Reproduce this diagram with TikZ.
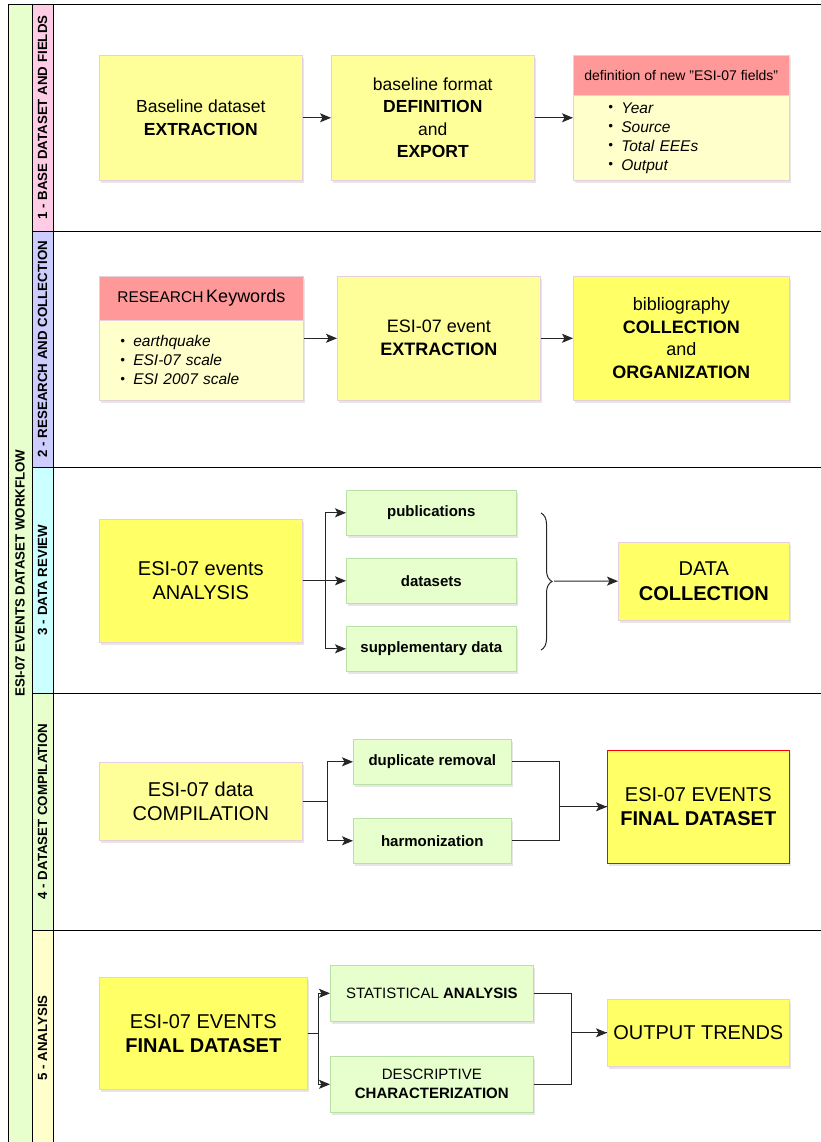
\documentclass[tikz,border=0pt]{standalone}
\usepackage{fontspec}
\setmainfont{Liberation Sans}
\usepackage{xcolor}
\usetikzlibrary{positioning,shadows,decorations.pathreplacing,arrows.meta}

\definecolor{paleyel}{HTML}{FFFF99}
\definecolor{brightyel}{HTML}{FFFF66}
\definecolor{boxline}{HTML}{E6D0DE}
\definecolor{headred}{HTML}{FF9999}
\definecolor{listyel}{HTML}{FFFFCC}
\definecolor{taskfill}{HTML}{E6FFCC}
\definecolor{taskline}{HTML}{B9E0A5}
\definecolor{outgreen}{HTML}{E6FFCC}
\definecolor{lanepink}{HTML}{FFCCE6}
\definecolor{lanelil}{HTML}{CCCCFF}
\definecolor{lanecyan}{HTML}{CCFFFF}
\definecolor{lanegreen}{HTML}{E6FFCC}
\definecolor{laneyel}{HTML}{FFFFCC}

\newcommand{\itm}{\makebox[13pt][l]{\raisebox{0.2ex}{\scalebox{0.85}{\textbullet}}}}

\begin{document}
\begin{tikzpicture}[x=1pt,y=-1pt]
\tikzstyle{box}=[draw=boxline,line width=0.6pt,inner sep=0pt,anchor=north west,align=center,drop shadow={shadow xshift=2pt,shadow yshift=-3pt,opacity=0.2}]
\tikzstyle{pale}=[box,fill=paleyel]
\tikzstyle{bright}=[box,fill=brightyel]
\tikzstyle{task}=[box,fill=taskfill,draw=taskline,font=\bfseries\fontsize{15}{18}\selectfont]
\tikzstyle{head}=[box,fill=headred]
\tikzstyle{list}=[box,fill=listyel,align=left,font=\itshape\fontsize{15.5}{19}\selectfont]
\tikzstyle{arr}=[-{Stealth[length=11pt,width=9pt,inset=2.5pt]},line width=1pt,black!85]
\tikzstyle{con}=[line width=1pt,black!85]
\tikzstyle{lanelbl}=[rotate=90,font=\bfseries\fontsize{13.3}{15}\selectfont]

\useasboundingbox (0,0) rectangle (821,1142);

% frame and lanes
\draw[fill=outgreen,line width=0.8pt] (8,4) rectangle (32,1146);
\node[lanelbl] (wflow) at (20,573) {ESI-07 EVENTS DATASET WORKFLOW};

\foreach \n/\ya/\yb/\col/\txt in {1/4/231/lanepink/{1 - BASE DATASET AND FIELDS},
  2/231/467/lanelil/{2 - RESEARCH AND COLLECTION},
  3/467/693/lanecyan/{3 - DATA REVIEW},
  4/693/930/lanegreen/{4 - DATASET COMPILATION},
  5/930/1146/laneyel/{5 - ANALYSIS}}{
  \draw[line width=0.8pt] (32,\ya) rectangle (825,\yb);
  \draw[fill=\col,line width=0.8pt] (32,\ya) rectangle (53,\yb);
  \node[lanelbl] (lane\n) at (42.5,{(\ya+\yb)/2}) {\txt};
}

% 1 - base dataset and fields
\node[pale,minimum width=203pt,minimum height=125pt,font=\fontsize{17.5}{23}\selectfont] (bext) at (99,55) {Baseline dataset\\\textbf{EXTRACTION}};
\node[pale,minimum width=203pt,minimum height=125pt,font=\fontsize{17.5}{22.5}\selectfont] (bfmt) at (331,55) {baseline format\\\textbf{DEFINITION}\\and\\\textbf{EXPORT}};
\node[head,minimum width=216pt,minimum height=40pt,font=\fontsize{14}{16}\selectfont] (fhead) at (573,55) {definition of new "ESI-07 fields"};
\node[list,minimum width=216pt,minimum height=85pt,text width=146pt] (fbody) at (573,95) {\itm Year\\\itm Source\\\itm Total EEEs\\\itm Output};

\draw[arr] (bext) -- (bfmt);
\draw[arr] (bfmt.east) -- (bfmt.east -| fbody.west);

% 2 - research and collection
\node[head,minimum width=204pt,minimum height=44pt] (khead) at (99,276) {{\fontsize{15.5}{18}\selectfont RESEARCH} {\fontsize{18}{20}\selectfont Keywords}};
\node[list,minimum width=204pt,minimum height=80pt,text width=162pt] (kbody) at (99,320) {\itm earthquake\\\itm ESI-07 scale\\\itm ESI 2007 scale};
\node[pale,minimum width=203pt,minimum height=124pt,font=\fontsize{18}{23}\selectfont] (eext) at (337,276) {ESI-07 event\\\textbf{EXTRACTION}};
\node[bright,minimum width=216pt,minimum height=124pt,font=\fontsize{18}{22.5}\selectfont] (bibl) at (573,276) {bibliography\\\textbf{COLLECTION}\\and\\\textbf{ORGANIZATION}};

\draw[arr] (eext.west -| kbody.east) -- (eext.west);
\draw[arr] (eext) -- (bibl);

% 3 - data review
\node[bright,minimum width=203pt,minimum height=123pt,font=\fontsize{20}{24}\selectfont] (anal) at (99,519) {ESI-07 events\\ANALYSIS};
\node[task,minimum width=170pt,minimum height=45pt] (publ) at (346,490) {publications};
\node[task,minimum width=170pt,minimum height=45pt] (dset) at (346,558) {datasets};
\node[task,minimum width=170pt,minimum height=45pt] (supp) at (346,626) {supplementary data};
\node[bright,minimum width=171pt,minimum height=78pt,font=\fontsize{20}{25}\selectfont] (dcol) at (618,542) {DATA\\\textbf{COLLECTION}};

\draw[arr] (anal.east) -- ++(23,0) |- (publ);
\draw[arr] (anal.east) -- ++(23,0) |- (supp);
\draw[arr] (anal) -- (dset);
\coordinate (btop) at (541,513);
\coordinate (bbot) at (541,650);
\coordinate (btip) at (554,581);
\draw[decorate,decoration={brace,amplitude=11pt},con] (btop) -- (bbot);
\draw[arr] (btip) -- (dcol);

% 4 - dataset compilation
\node[pale,minimum width=203pt,minimum height=78pt,font=\fontsize{20}{24}\selectfont] (comp) at (99,762) {ESI-07 data\\COMPILATION};
\node[task,minimum width=158pt,minimum height=45pt] (dupl) at (353,739) {duplicate removal};
\node[task,minimum width=158pt,minimum height=45pt] (harm) at (353,818) {harmonization};
\node[bright,draw=red,minimum width=182pt,minimum height=113pt,font=\fontsize{20}{24}\selectfont] (fin4) at (607,750) {ESI-07 EVENTS\\\textbf{FINAL DATASET}};

\draw[arr] (comp.east) -- ++(25,0) |- (dupl);
\draw[arr] (comp.east) -- ++(25,0) |- (harm);
\draw[con] (dupl.east) -- ++(48,0) |- (fin4.west);
\draw[arr] (harm.east) -- ++(48,0) |- (fin4.west);

% 5 - analysis
\node[bright,minimum width=208pt,minimum height=112pt,font=\fontsize{20}{24}\selectfont] (fin5) at (99,977) {ESI-07 EVENTS\\\textbf{FINAL DATASET}};
\node[task,minimum width=203pt,minimum height=56pt,font=\fontsize{15}{19}\selectfont] (stat) at (330,965) {STATISTICAL \textbf{ANALYSIS}};
\node[task,minimum width=203pt,minimum height=56pt,font=\fontsize{15}{19}\selectfont] (desc) at (330,1056) {DESCRIPTIVE\\\textbf{CHARACTERIZATION}};
\node[bright,minimum width=182pt,minimum height=67pt,font=\fontsize{20}{24}\selectfont] (outp) at (607,999) {OUTPUT TRENDS};

\draw[arr] (fin5.east) -- ++(11,0) |- (stat);
\draw[arr] (fin5.east) -- ++(11,0) |- (desc);
\draw[con] (stat.east) -- ++(38,0) |- (outp.west);
\draw[arr] (desc.east) -- ++(38,0) |- (outp.west);

\end{tikzpicture}
\end{document}
